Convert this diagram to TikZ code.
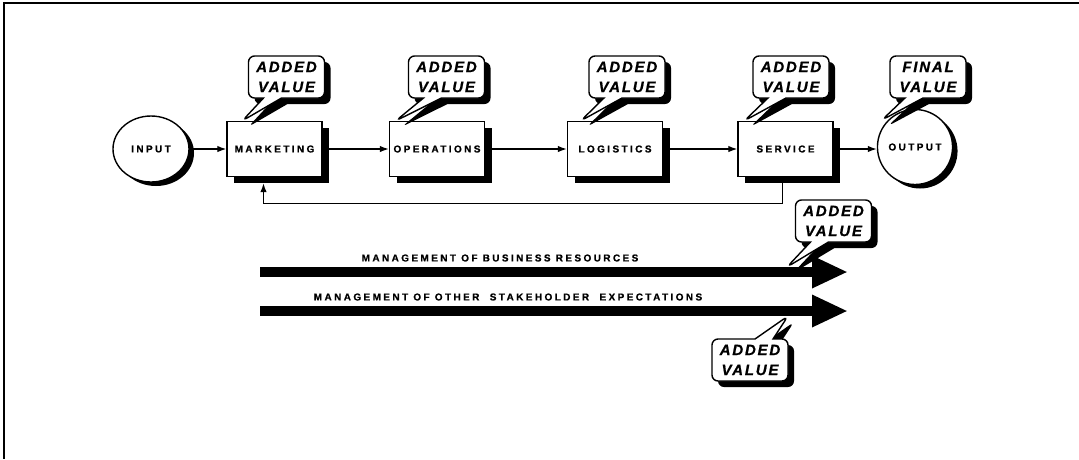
\documentclass[tikz,border=0pt]{standalone}
\usepackage{fontspec}
\usetikzlibrary{arrows.meta,shapes.geometric,shapes.callouts,shadows}
\newfontfamily\labelfont[LetterSpace=24,FakeBold=0.8]{Liberation Sans}
\newfontfamily\tagfont[LetterSpace=12,FakeBold=0.8]{Liberation Sans}

\begin{document}
\begin{tikzpicture}[x=1pt,y=-1pt,
    flow/.style={line width=1.3pt,-{Latex[length=9pt,width=6.5pt]}},
    boxshadow/.style={drop shadow={fill=black,opacity=1,shadow xshift=7pt,shadow yshift=-6pt}},
    procbox/.style={draw,line width=1.4pt,fill=white,minimum width=95pt,minimum height=55pt,
        inner sep=0pt,boxshadow,font=\labelfont\bfseries\fontsize{10pt}{12pt}\selectfont},
    endpoint/.style={ellipse,draw,line width=1.4pt,fill=white,inner sep=0pt,
        drop shadow={fill=black,opacity=1,shadow xshift=5pt,shadow yshift=-4pt},
        font=\labelfont\bfseries\fontsize{10pt}{12pt}\selectfont},
    valuetag/.style={rectangle callout,draw,line width=1.4pt,fill=white,rounded corners=6pt,
        minimum width=76pt,minimum height=42pt,inner sep=0pt,align=center,
        callout pointer width=18pt,
        drop shadow={fill=black,opacity=1,shadow xshift=6pt,shadow yshift=-6pt},
        font=\tagfont\bfseries\itshape\fontsize{15pt}{20pt}\selectfont},
    bigarrow/.style={line width=10pt,-{Triangle[length=36pt,width=30pt]}},
    banner/.style={font=\labelfont\bfseries\fontsize{10pt}{12pt}\selectfont,inner sep=0pt}
  ]
  \useasboundingbox (0,0) rectangle (1079,459);

  % frame, open at the right and bottom
  \draw[line width=1.8pt] (3,3) -- (1079,3);
  \draw[line width=1.3pt] (4,3) -- (4,459);

  % value chain
  \node[endpoint,minimum width=76pt,minimum height=66pt] (in) at (151,149) {INPUT};
  \foreach \name/\x/\txt in {mkt/274.5/MARKETING, ops/437/OPERATIONS, log/615/LOGISTICS, svc/785.5/SERVICE}
    \node[procbox] (\name) at (\x,149) {\txt};
  \node[endpoint,minimum width=71pt,minimum height=75pt] (out) at (915,147) {OUTPUT};

  \draw[flow] (in) -- (mkt);
  \draw[flow] (mkt) -- (ops);
  \draw[flow] (ops) -- (log);
  \draw[flow] (log) -- (svc);
  \draw[flow] (svc.east) -- (svc.east -| out.west);
  \draw[flow] ([xshift=-3pt]svc.south) -- ++(0,26) -| ([xshift=-11pt,yshift=-6pt]mkt.south);

  % added value at each stage
  \foreach \x/\tgt/\dx in {286.5/mkt/16, 446.5/ops/7, 627/log/14, 791/svc/7}
    \node[valuetag,callout absolute pointer={([xshift=\dx pt]\tgt.north west)}] (tag-\tgt) at (\x,77) {ADDED\\VALUE};
  \node[valuetag,callout absolute pointer={([xshift=-6pt]out.north west)}] (tag-out) at (928,77) {FINAL\\VALUE};

  % management streams
  \coordinate (res-a) at (260,272);
  \coordinate (res-b) at (848,272);
  \coordinate (exp-a) at (260,311);
  \coordinate (exp-b) at (848,311);
  \draw[bigarrow] (res-a) -- (res-b);
  \draw[bigarrow] (exp-a) -- (exp-b);
  \node[banner] (res-txt) at (500,258) {MANAGEMENT OF BUSINESS RESOURCES};
  \node[banner] (exp-txt) at (508,297) {MANAGEMENT OF OTHER\ \ STAKEHOLDER\ \ EXPECTATIONS};

  \node[valuetag,callout absolute pointer={([xshift=-61pt,yshift=5pt]res-b)}] (tag-res) at (833.5,221) {ADDED\\VALUE};
  \node[valuetag,callout absolute pointer={([xshift=-60pt,yshift=-5pt]exp-b)}] (tag-exp) at (750,360) {ADDED\\VALUE};
\end{tikzpicture}
\end{document}
